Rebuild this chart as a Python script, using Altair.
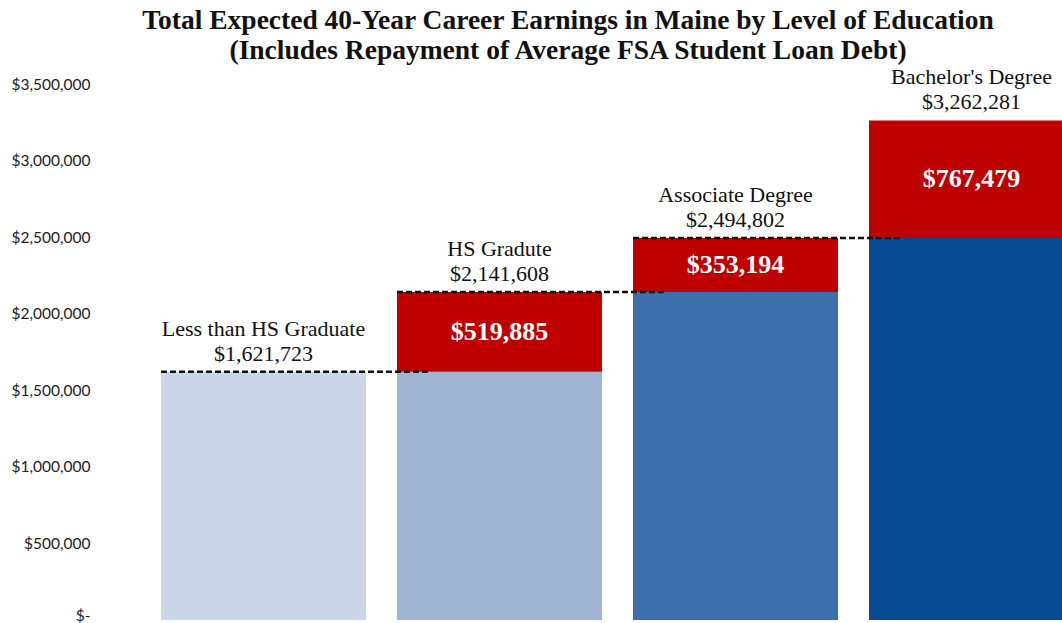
import altair as alt
import pandas as pd

categories = ["Less than HS Graduate", "HS Gradute", "Associate Degree", "Bachelor's Degree"]
base_values = [1621723, 1621723, 2141608, 2494802]
loan_increment = [0, 519885, 353194, 767479]
totals = [1621723, 2141608, 2494802, 3262281]
base_colors = ["#CAD7E9", "#9FB4D3", "#3D70AC", "#064A92"]
red_color = "#BE0000"
y_ticks = [0, 500000, 1000000, 1500000, 2000000, 2500000, 3000000, 3500000]

seg_rows = []
for i, c in enumerate(categories):
    seg_rows.append({"pos": i, "bottom": 0, "top": base_values[i], "seg": f"base{i}"})
    if loan_increment[i] > 0:
        seg_rows.append({"pos": i, "bottom": base_values[i], "top": totals[i], "seg": "loan"})
seg_df = pd.DataFrame(seg_rows)

lab_df = pd.DataFrame({
    "pos": list(range(len(categories))),
    "total": totals,
    "label": [f"{c}\n${t:,}" for c, t in zip(categories, totals)],
})

inc_idx = [i for i in range(len(categories)) if loan_increment[i] > 0]
inc_df = pd.DataFrame({
    "pos": inc_idx,
    "mid": [(base_values[i] + totals[i]) / 2 for i in inc_idx],
    "txt": [f"${loan_increment[i]:,}" for i in inc_idx],
})

line_df = pd.DataFrame({
    "pos": list(range(len(categories) - 1)),
    "y": totals[:-1],
})

xscale = alt.Scale(domain=[-0.6928, 3.3835], nice=False, zero=False, padding=0)
yscale = alt.Scale(domain=[0, 3500000], nice=False)

seg_domain = [f"base{i}" for i in range(len(categories))] + ["loan"]
seg_range = base_colors + [red_color]

bars = alt.Chart(seg_df).mark_bar(width=205, orient="vertical", clip=True).encode(
    x=alt.X("pos:Q", scale=xscale, axis=None),
    y=alt.Y("top:Q", scale=yscale, axis=alt.Axis(
        values=y_ticks, grid=False, domain=False, ticks=False, title=None,
        labelExpr="datum.value == 0 ? '$-\u00a0\u00a0\u00a0' : '$' + format(datum.value, ',')",
        labelBaseline={"condition": {"test": "datum.value == 0", "value": "alphabetic"}, "value": "middle"},
        labelFont="Lato", labelFontSize=15.5, labelColor="#222222", labelPadding=10)),
    y2="bottom:Q",
    color=alt.Color("seg:N", scale=alt.Scale(domain=seg_domain, range=seg_range), legend=None),
)

lines = alt.Chart(line_df).transform_calculate(
    x1="datum.pos - 0.4343", x2="datum.pos + 1 - 0.4343 + 0.13"
).mark_rule(strokeDash=[6, 3], strokeWidth=2.5, color="#111111").encode(
    x=alt.X("x1:Q", scale=xscale),
    x2="x2:Q",
    y=alt.Y("y:Q", scale=yscale),
)

labels = alt.Chart(lab_df).mark_text(
    baseline="bottom", dy=-31, font="Liberation Serif", fontSize=22, lineHeight=25,
    lineBreak="\n", color="#111111", align="center"
).encode(
    x=alt.X("pos:Q", scale=xscale),
    y=alt.Y("total:Q", scale=yscale),
    text="label:N",
)

inc_labels = alt.Chart(inc_df).mark_text(
    baseline="middle", font="Liberation Serif", fontSize=26, fontWeight="bold",
    color="white", align="center"
).encode(
    x=alt.X("pos:Q", scale=xscale),
    y=alt.Y("mid:Q", scale=yscale),
    text="txt:N",
)

chart = alt.layer(bars, lines, labels, inc_labels).properties(
    width=962,
    height=536,
    autosize=alt.AutoSizeParams(type="none"),
    padding={"left": 100, "top": 84, "right": 0, "bottom": 3},
    background="white",
    title=alt.TitleParams(
        text=["Total Expected 40-Year Career Earnings in Maine by Level of Education",
              "(Includes Repayment of Average FSA Student Loan Debt)"],
        font="Liberation Serif", fontSize=27.5, fontWeight="bold", lineHeight=30,
        color="#111111", anchor="middle", offset=13, dx=-13, dy=11,
    ),
).configure_view(stroke=None)

chart.save("out.html", embed_options={"renderer": "svg", "actions": False})
